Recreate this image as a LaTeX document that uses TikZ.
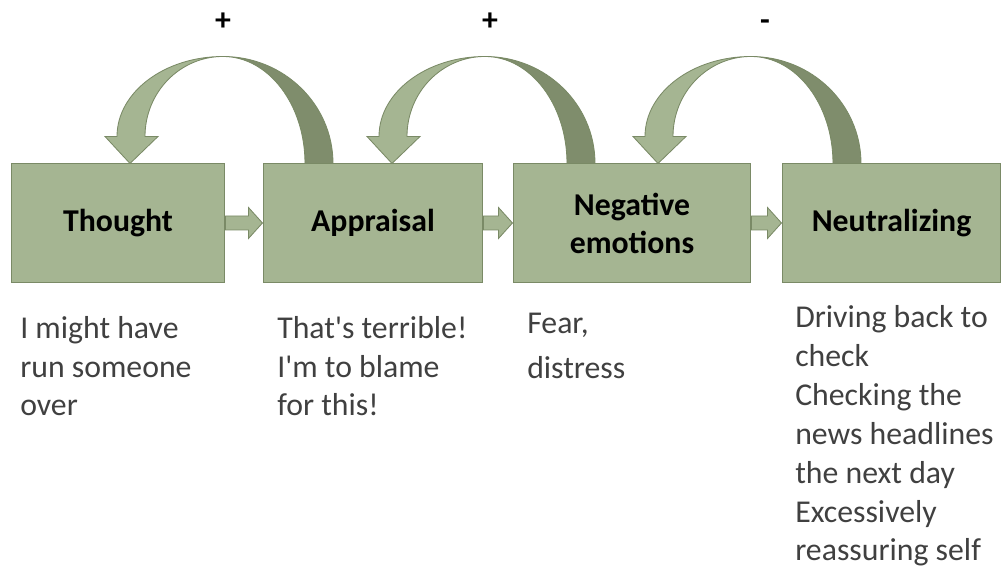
\documentclass[tikz,border=0pt]{standalone}
\usepackage{fontspec}
\setmainfont{Carlito}
\usepackage{tikz}
\usetikzlibrary{calc}
\definecolor{sage}{HTML}{A5B592}
\definecolor{sagedark}{HTML}{7F8D6C}
\definecolor{sageedge}{HTML}{7A8A66}
\definecolor{notegray}{HTML}{404040}

\begin{document}
\begin{tikzpicture}[x=0.025cm,y=-0.025cm,
  font=\fontsize{22.6}{27.7}\selectfont,
  stage/.style={draw=sageedge,fill=sage,line width=0.7pt,minimum height=2.95cm,
                inner sep=0pt,align=center,font=\fontsize{22.6}{27}\selectfont\bfseries},
  note/.style={anchor=base west,align=left,inner sep=0pt,text=notegray},
  blockarrow/.style={draw=sageedge,fill=sage,line width=0.6pt},
  frontface/.style={draw=sageedge,fill=sage,line width=0.6pt},
  backface/.style={draw=sageedge,fill=sagedark,line width=0.6pt},
  sign/.style={inner sep=0pt,font=\fontsize{22.6}{27}\selectfont\bfseries}
]
\useasboundingbox (0,0) rectangle (1001,569);
% stages
\node[stage,minimum width=5.3cm]   (th) at (118,223)   {Thought};
\node[stage,minimum width=5.45cm]  (ap) at (373,223)   {Appraisal};
\node[stage,minimum width=5.9cm]   (ne) at (632,223)   {Negative\\emotions};
\node[stage,minimum width=5.425cm] (nz) at (891.5,223) {Neutralizing};
% forward block arrows
\foreach \a/\b in {th/ap,ap/ne,ne/nz}{
  \filldraw[blockarrow] ($(\a.east)+(1,-7)$) -- ($(\b.west)+(-15,-7)$) -- ($(\b.west)+(-15,-15.5)$)
    -- ($(\b.west)+(-1,0)$) -- ($(\b.west)+(-15,15.5)$) -- ($(\b.west)+(-15,7)$) -- ($(\a.east)+(1,7)$) -- cycle;}
% feedback loops (tip on the earlier stage)
\coordinate (t1) at ($(th.north)+(12,0)$);
\coordinate (t2) at ($(ap.north)+(19,0)$);
\coordinate (t3) at ($(ne.north)+(26,0)$);
\foreach \t in {t1,t2,t3}{
  \begin{scope}[shift={(\t)}]
    \filldraw[backface] (93,-107) .. controls (153.8,-107) and (203,-59.1) .. (203,0) -- (175,0)
      .. controls (175,-59.1) and (138.3,-107) .. (93,-107) -- cycle;
    \filldraw[frontface] (0,0) -- (28,-27) -- (15,-27) .. controls (15,-71.2) and (49.9,-107) .. (93,-107)
      .. controls (34.5,-107) and (-13,-71.2) .. (-13,-27) -- (-25,-27) -- cycle;
  \end{scope}}
\node[sign] (s1) at (223,22) {+};
\node[sign] (s2) at (490,22) {+};
\node[sign] (s3) at (765,25) {-};
% notes (anchored on the last baseline)
\node[note] (th-note) at (20,416)  {I might have\\run someone\\over};
\node[note] (ap-note) at (277,416) {That\textquotesingle s terrible!\\I\textquotesingle m to blame\\for this!};
\node[note] (ne-note) at (527,379) {Fear,\\[5pt]distress};
\node[note] (nz-note) at (795,561) {Driving back to\\check\\Checking the\\news headlines\\the next day\\Excessively\\reassuring self};
\end{tikzpicture}
\end{document}
